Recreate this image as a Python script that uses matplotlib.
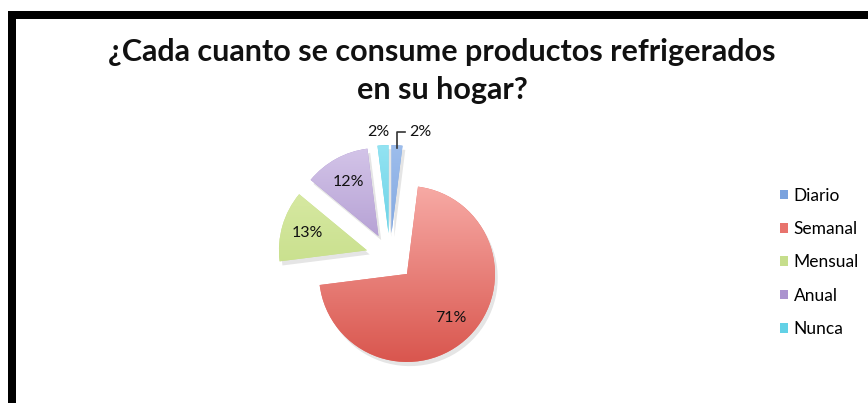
import matplotlib
matplotlib.use("Agg")
import matplotlib.pyplot as plt
import matplotlib.patheffects as pe
from matplotlib.patches import Rectangle, Patch
import numpy as np

# survey answers
categorias = ["Diario", "Semanal", "Mensual", "Anual", "Nunca"]
porcentajes = [2, 71, 13, 12, 2]

# gradient colours per slice (top, bottom)
colores_sup = ["#9dbdec", "#f7aaa5", "#dcecaa", "#d3c4e8", "#93e3f2"]
colores_inf = ["#6b95d6", "#d9564e", "#bcd87a", "#9a80c2", "#47c3dc"]
colores_leyenda = ["#7aa2de", "#e8736d", "#c6de8c", "#ab93cf", "#62d1e6"]

W, H = 868, 403
fig = plt.figure(figsize=(W / 100, H / 100), dpi=100)
ax = fig.add_axes([0, 0, 1, 1])

cx, cy = 390, H - 257
radio = 88
sep = 24

wedges, _ = ax.pie(porcentajes, radius=radio, center=(cx, cy), startangle=90,
                   counterclock=False, explode=[sep] * len(porcentajes),
                   colors=colores_leyenda, wedgeprops=dict(linewidth=0))

for w, c_top, c_bot in zip(wedges, colores_sup, colores_inf):
    w.set_path_effects([pe.SimplePatchShadow(offset=(2, -3), shadow_rgbFace="#000000", alpha=0.1),
                        pe.Normal()])
    t = np.linspace(0, 1, 256)[:, None, None]
    top = np.array(matplotlib.colors.to_rgb(c_top))[None, None, :]
    bot = np.array(matplotlib.colors.to_rgb(c_bot))[None, None, :]
    grad = top * (1 - t) + bot * t
    x0, y0 = w.center
    im = ax.imshow(grad, extent=(x0 - radio, x0 + radio, y0 - radio, y0 + radio),
                   origin="upper", aspect="auto", zorder=w.get_zorder() + 0.1)
    im.set_clip_path(w)

lbl = dict(fontsize=11.5, color="#111111", family="Lato", zorder=5,
           ha="center", va="center")

# percentage labels
for w, val in zip(wedges, porcentajes):
    ang = np.deg2rad((w.theta1 + w.theta2) / 2)
    x0, y0 = w.center
    if val >= 5:
        d = 0.7 * radio
        ax.text(x0 + d * np.cos(ang), y0 + d * np.sin(ang), f"{val}%", **lbl)

# small slices: labels outside
w_diario, w_nunca = wedges[0], wedges[4]
ang = np.deg2rad((w_nunca.theta1 + w_nunca.theta2) / 2)
x0, y0 = w_nunca.center
ax.text(x0 + 1.15 * radio * np.cos(ang) - 4, y0 + 1.15 * radio * np.sin(ang), f"{porcentajes[4]}%", **lbl)

ang = np.deg2rad((w_diario.theta1 + w_diario.theta2) / 2)
x0, y0 = w_diario.center
tx, ty = x0 + 0.97 * radio * np.cos(ang), y0 + 0.97 * radio * np.sin(ang)
lx, ly = tx + 23, ty + 16
ax.plot([tx, tx, lx - 15], [ty, ly, ly], color="#333333", lw=1.2, zorder=4)
ax.text(lx, ly, f"{porcentajes[0]}%", **lbl)

ax.set_xlim(0, W)
ax.set_ylim(0, H)
ax.set_aspect("equal")
ax.axis("off")

# title
fig.text(442 / W, 1 - 71 / H, "¿Cada cuanto se consume productos refrigerados\nen su hogar?",
         ha="center", va="center", fontsize=22, fontweight="bold", family="Lato",
         color="#111111", linespacing=1.45)

# legend
handles = [Patch(facecolor=c, edgecolor="none") for c in colores_leyenda]
fig.legend(handles, categorias, loc="upper left", bbox_to_anchor=(764 / W, 1 - 172 / H),
           frameon=False, handlelength=0.5, handleheight=0.5,
           handletextpad=0.3, labelspacing=1.0, prop=dict(family="Lato", size=12.5))

# black frame on top and left
fig.add_artist(Rectangle((8 / W, 1 - 19 / H), 1, 8 / H, transform=fig.transFigure,
                         facecolor="black", edgecolor="none"))
fig.add_artist(Rectangle((8 / W, 0), 8 / W, 1 - 11 / H, transform=fig.transFigure,
                         facecolor="black", edgecolor="none"))

fig.savefig("out.png", dpi=100)
